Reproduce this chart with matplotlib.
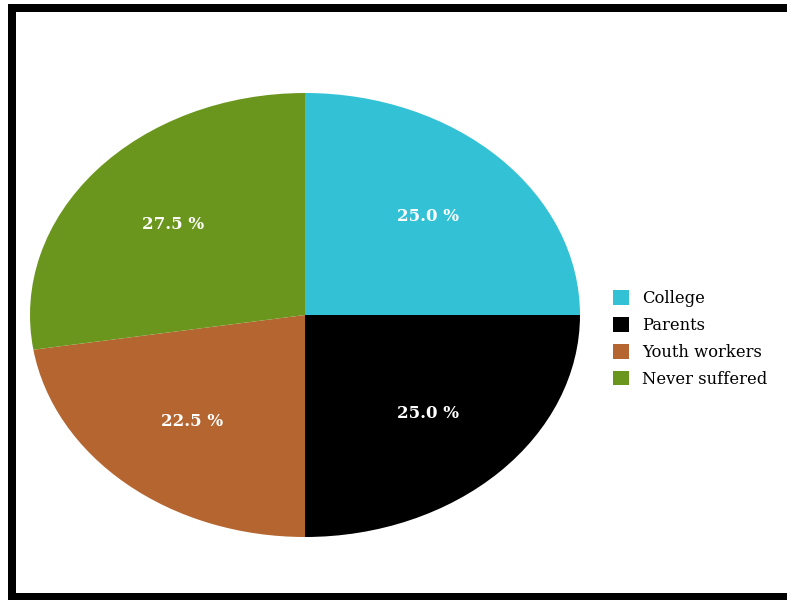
import matplotlib
matplotlib.use("Agg")
import matplotlib.pyplot as plt
from matplotlib.patches import Rectangle

# Share of respondents by who they turned to
categories = ["College", "Parents", "Youth workers", "Never suffered"]
shares = [25.0, 25.0, 22.5, 27.5]
colors = ["#33c1d6", "#000000", "#b5652f", "#6b961e"]

W, H = 787, 601
fig = plt.figure(figsize=(W / 100, H / 100), dpi=100)
fig.patch.set_facecolor("white")

# Pie area stretched into an ellipse
left, right, top, bottom = 30, 580, 93, 537
ax = fig.add_axes([left / W, 1 - bottom / H, (right - left) / W, (bottom - top) / H])
wedges, texts, autotexts = ax.pie(
    shares,
    colors=colors,
    startangle=90,
    counterclock=False,
    autopct="%.1f %%",
    pctdistance=0.63,
    textprops=dict(color="white", fontsize=12, fontweight="bold",
                   family="DejaVu Serif"),
    wedgeprops=dict(linewidth=0),
)
ax.set_aspect("auto")
ax.set_xlim(-1, 1)
ax.set_ylim(-1, 1)
ax.axis("off")

# Legend with square markers
leg = fig.legend(
    wedges,
    categories,
    loc="center left",
    bbox_to_anchor=(598 / W, 1 - 339 / H),
    frameon=False,
    handlelength=1.0,
    handleheight=1.0,
    handletextpad=0.8,
    labelspacing=0.6,
    prop=dict(family="DejaVu Serif", size=11.8),
)

# Black frame on the top, left and bottom edges
def bar(x0, y0, x1, y1):
    fig.add_artist(Rectangle((x0 / W, 1 - y1 / H), (x1 - x0) / W, (y1 - y0) / H,
                             transform=fig.transFigure, facecolor="black",
                             edgecolor="none"))

bar(8, 4, W, 12)
bar(8, 4, 16, 600)
bar(8, 593, W, 600)

fig.savefig("out.png", dpi=100)
